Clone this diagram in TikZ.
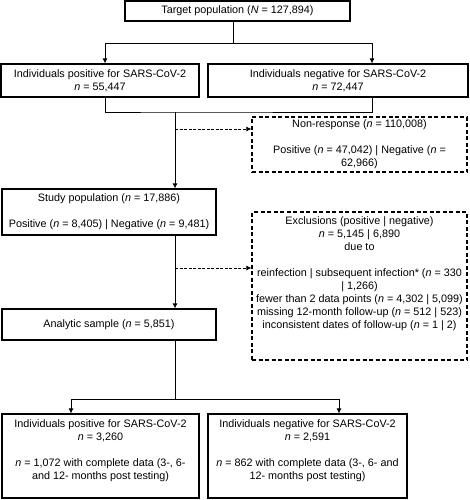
\documentclass[tikz,border=0pt]{standalone}
\usepackage{fontspec}
\setmainfont{Liberation Sans}
\usetikzlibrary{arrows.meta}
\newcommand{\nn}{\textit{n}}

\begin{document}
\begin{tikzpicture}[x=1pt, y=-1pt,
    box/.style={draw, line width=1.1pt, align=center, inner sep=2pt, font=\fontsize{10.8}{13}\selectfont},
    dbox/.style={box, dash pattern=on 4pt off 2.5pt},
    line/.style={line width=0.9pt},
    arr/.style={line, -{Latex[length=5pt,width=5pt]}},
    darr/.style={arr, dash pattern=on 3pt off 1.5pt}]
    \useasboundingbox (0,0) rectangle (469,500);

    \node[box, minimum width=225pt, minimum height=20pt] (target) at (237.5,11) {Target population (\textit{N} = 127,894)};
    \node[box, minimum width=198pt, minimum height=33pt] (pos) at (100,80.5) {Individuals positive for SARS-CoV-2\\ \nn{} = 55,447};
    \node[box, minimum width=260pt, minimum height=33pt] (neg) at (338,80.5) {Individuals negative for SARS-CoV-2\\ \nn{} = 72,447};
    \node[dbox, minimum width=215pt, minimum height=55pt] (nonresp) at (359.5,144.5) {Non-response (\nn{} = 110,008)\\[13pt] Positive (\nn{} = 47,042) | Negative (\nn{} =\\ 62,966)};
    \node[box, minimum width=214pt, minimum height=46pt] (study) at (109,212) {Study population (\nn{} = 17,886)\\[13pt] Positive (\nn{} = 8,405) | Negative (\nn{} = 9,481)};
    \node[dbox, minimum width=215pt, minimum height=148pt] (excl) at (359.5,286) {Exclusions (positive | negative)\\ \nn{} = 5,145 | 6,890\\ due to\\[13pt] reinfection | subsequent infection* (\nn{} = 330\\ | 1,266)\\ fewer than 2 data points (\nn{} = 4,302 | 5,099)\\ missing 12-month follow-up (\nn{} = 512 | 523)\\ inconsistent dates of follow-up (\nn{} = 1 | 2)\\ ~\\ ~};
    \node[box, minimum width=214pt, minimum height=31pt] (analytic) at (109,324.5) {Analytic sample (\nn{} = 5,851)};
    \node[box, minimum width=197pt, minimum height=84pt] (posB) at (100.5,456) {Individuals positive for SARS-CoV-2\\ \nn{} = 3,260\\[13pt] \nn{} = 1,072 with complete data (3-, 6-\\ and 12- months post testing)\\ ~};
    \node[box, minimum width=199pt, minimum height=84pt] (negB) at (307.5,456) {Individuals negative for SARS-CoV-2\\ \nn{} = 2,591\\[13pt] \nn{} = 862 with complete data (3-, 6- and\\ 12- months post testing)\\ ~};

    \coordinate (s1) at (233,43);
    \coordinate (m1) at (175,112);
    \coordinate (d1) at (175,129);
    \coordinate (d2) at (175,268);
    \coordinate (s2) at (175,399);

    \draw[line] (target.south -| s1) -- (s1);
    \draw[arr] (s1) -| ([xshift=5pt]pos.north);
    \draw[arr] (s1) -| ([xshift=34pt]neg.north);
    \draw[line] ([xshift=5pt]pos.south) |- (m1) -| ([xshift=34pt]neg.south);
    \draw[arr] (m1) -- (study.north -| m1);
    \draw[darr] (d1) -- (d1 -| nonresp.west);
    \draw[arr] (study.south -| m1) -- (analytic.north -| m1);
    \draw[darr] (d2) -- (d2 -| excl.west);
    \draw[line] (analytic.south -| s2) -- (s2);
    \draw[arr] (s2) -| ([xshift=-29.5pt]posB.north);
    \draw[arr] (s2) -| ([xshift=31.5pt]negB.north);
\end{tikzpicture}
\end{document}
